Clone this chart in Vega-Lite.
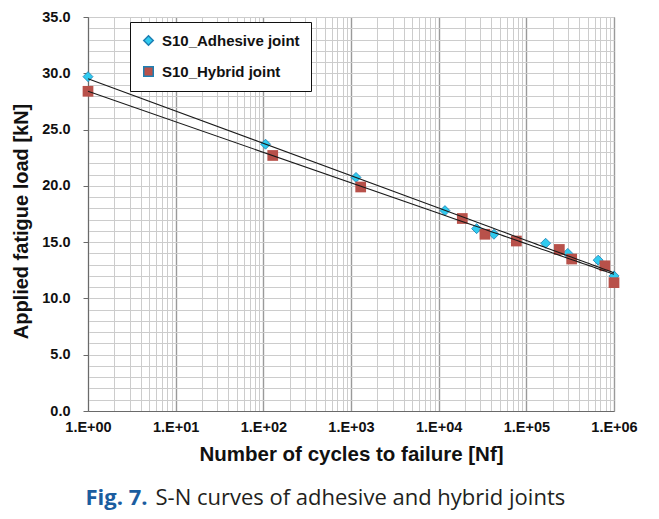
{
  "$schema": "https://vega.github.io/schema/vega-lite/v6.json",
  "width": 526,
  "height": 394,
  "autosize": {"type": "none"},
  "padding": {"left": 88, "top": 17, "right": 45, "bottom": 108},
  "background": "white",
  "config": {
    "view": {"stroke": "#6a6a6a", "strokeWidth": 1},
    "axis": {"labelFont": "Liberation Sans", "titleFont": "Liberation Sans"},
    "legend": {"labelFont": "Liberation Sans"}
  },
  "data": {
    "values": [
      {"series": "S10_Adhesive joint", "cycles": 1, "load": 29.7},
      {"series": "S10_Adhesive joint", "cycles": 106, "load": 23.7},
      {"series": "S10_Adhesive joint", "cycles": 1140, "load": 20.75},
      {"series": "S10_Adhesive joint", "cycles": 11800, "load": 17.8},
      {"series": "S10_Adhesive joint", "cycles": 27100, "load": 16.2},
      {"series": "S10_Adhesive joint", "cycles": 42700, "load": 15.7},
      {"series": "S10_Adhesive joint", "cycles": 166000, "load": 14.9},
      {"series": "S10_Adhesive joint", "cycles": 297000, "load": 14.0},
      {"series": "S10_Adhesive joint", "cycles": 660000, "load": 13.4},
      {"series": "S10_Adhesive joint", "cycles": 1000000, "load": 12.0},
      {"series": "S10_Hybrid joint", "cycles": 1, "load": 28.4},
      {"series": "S10_Hybrid joint", "cycles": 128, "load": 22.7},
      {"series": "S10_Hybrid joint", "cycles": 1290, "load": 19.9},
      {"series": "S10_Hybrid joint", "cycles": 18600, "load": 17.1},
      {"series": "S10_Hybrid joint", "cycles": 33700, "load": 15.7},
      {"series": "S10_Hybrid joint", "cycles": 77000, "load": 15.1},
      {"series": "S10_Hybrid joint", "cycles": 238000, "load": 14.35},
      {"series": "S10_Hybrid joint", "cycles": 329000, "load": 13.5},
      {"series": "S10_Hybrid joint", "cycles": 787000, "load": 12.9},
      {"series": "S10_Hybrid joint", "cycles": 1000000, "load": 11.4}
    ]
  },
  "encoding": {
    "y": {
      "field": "load",
      "type": "quantitative",
      "scale": {"domain": [0, 35], "nice": false, "zero": false},
      "axis": {
        "values": [0,1,2,3,4,5,6,7,8,9,10,11,12,13,14,15,16,17,18,19,20,21,22,23,24,25,26,27,28,29,30,31,32,33,34,35],
        "labelExpr": "datum.value % 5 === 0 ? format(datum.value, '.1f') : ''",
        "labelFontSize": 14.5,
        "labelFontWeight": "bold",
        "labelColor": "#111111",
        "labelPadding": 13,
        "labelFlush": false,
        "labelOverlap": false,
        "tickSize": {"condition": {"test": "datum.value % 5 === 0", "value": 5}, "value": 0},
        "tickColor": "#6a6a6a",
        "domainColor": "#6a6a6a",
        "grid": true,
        "gridColor": "#cccccc",
        "gridWidth": 1,
        "title": "Applied fatigue load [kN]",
        "titleFontSize": 20,
        "titleFontWeight": "bold",
        "titleColor": "#111111",
        "titleAngle": -90,
        "titleBaseline": "alphabetic",
        "titleAlign": "center",
        "titleX": -61,
        "titleY": 204
      }
    }
  },
  "layer": [
    {
      "transform": [{"filter": "datum.series === 'S10_Adhesive joint'"}],
      "mark": {"type": "point", "filled": true, "size": 100, "opacity": 1, "stroke": "#1d7fb3", "strokeWidth": 0.8},
      "encoding": {
        "x": {
          "field": "cycles",
          "type": "quantitative",
          "scale": {"type": "log", "domain": [1, 1000000], "nice": false},
          "axis": {
            "orient": "bottom",
            "domain": false,
            "ticks": false,
            "labels": false,
            "grid": false,
            "title": "S-N curves of adhesive and hybrid joints",
            "titleFont": "Open Sans",
            "titleFontSize": 22,
            "titleFontWeight": "normal",
            "titleColor": "#231f20",
            "titleAlign": "left",
            "titleBaseline": "alphabetic",
            "titleX": 67,
            "titleY": 93
          }
        },
        "fill": {
          "field": "series",
          "type": "nominal",
          "scale": {"domain": ["S10_Adhesive joint", "S10_Hybrid joint"], "range": ["#30cbef", "#b8514a"]},
          "legend": {
            "title": null,
            "orient": "none",
            "legendX": 42,
            "legendY": 5,
            "direction": "vertical",
            "strokeColor": "#111111",
            "fillColor": "#ffffff",
            "padding": 11,
            "rowPadding": 14,
            "labelFontSize": 15,
            "labelFontWeight": "bold",
            "labelColor": "#111111",
            "labelOffset": 6,
            "symbolSize": 90
          }
        },
        "shape": {
          "field": "series",
          "type": "nominal",
          "scale": {"domain": ["S10_Adhesive joint", "S10_Hybrid joint"], "range": ["diamond", "square"]},
          "legend": {
            "title": null,
            "orient": "none",
            "legendX": 42,
            "legendY": 5,
            "direction": "vertical",
            "strokeColor": "#111111",
            "fillColor": "#ffffff",
            "padding": 11,
            "rowPadding": 14,
            "labelFontSize": 15,
            "labelFontWeight": "bold",
            "labelColor": "#111111",
            "labelOffset": 6,
            "symbolSize": 90
          }
        }
      }
    },
    {
      "transform": [{"filter": "datum.series === 'S10_Hybrid joint'"}],
      "mark": {"type": "point", "filled": true, "size": 115, "opacity": 1},
      "encoding": {
        "x": {
          "field": "cycles",
          "type": "quantitative",
          "scale": {"type": "log", "domain": [1, 1000000], "nice": false},
          "axis": {
            "orient": "bottom",
            "domain": false,
            "ticks": false,
            "labels": false,
            "grid": false,
            "title": "Fig. 7.",
            "titleFont": "Open Sans",
            "titleFontSize": 22,
            "titleFontWeight": "bold",
            "titleColor": "#1b5d9f",
            "titleAlign": "left",
            "titleBaseline": "alphabetic",
            "titleX": -3,
            "titleY": 93
          }
        },
        "fill": {"field": "series", "type": "nominal"},
        "shape": {"field": "series", "type": "nominal"}
      }
    },
    {
      "transform": [
        {"regression": "load", "on": "cycles", "groupby": ["series"], "method": "log", "extent": [1, 1000000]}
      ],
      "mark": {"type": "line", "color": "#1a1a1a", "strokeWidth": 1.1},
      "encoding": {
        "x": {
          "field": "cycles",
          "type": "quantitative",
          "scale": {"type": "log", "domain": [1, 1000000], "nice": false},
          "axis": {
            "orient": "bottom",
            "values": [1,2,3,4,5,6,7,8,9,10,20,30,40,50,60,70,80,90,100,200,300,400,500,600,700,800,900,1000,2000,3000,4000,5000,6000,7000,8000,9000,10000,20000,30000,40000,50000,60000,70000,80000,90000,100000,200000,300000,400000,500000,600000,700000,800000,900000,1000000],
            "labelExpr": "indexof([1,10,100,1000,10000,100000,1000000], datum.value) >= 0 ? '1.E+0' + round(log(datum.value) / LN10) : ''",
            "labelFontSize": 14.5,
            "labelFontWeight": "bold",
            "labelColor": "#111111",
            "labelPadding": 9,
            "labelFlush": false,
            "labelOverlap": false,
            "ticks": false,
            "domainColor": "#6a6a6a",
            "grid": true,
            "gridColor": {"condition": {"test": "indexof([1,10,100,1000,10000,100000,1000000], datum.value) >= 0", "value": "#9a9a9a"}, "value": "#cccccc"},
            "gridWidth": {"condition": {"test": "indexof([1,10,100,1000,10000,100000,1000000], datum.value) >= 0", "value": 1.4}, "value": 1},
            "title": "Number of cycles to failure [Nf]",
            "titleFontSize": 20.5,
            "titleFontWeight": "bold",
            "titleColor": "#111111",
            "titleBaseline": "alphabetic",
            "titleY": 49
          }
        },
        "detail": {"field": "series", "type": "nominal"}
      }
    }
  ],
  "resolve": {"axis": {"x": "independent"}}
}
